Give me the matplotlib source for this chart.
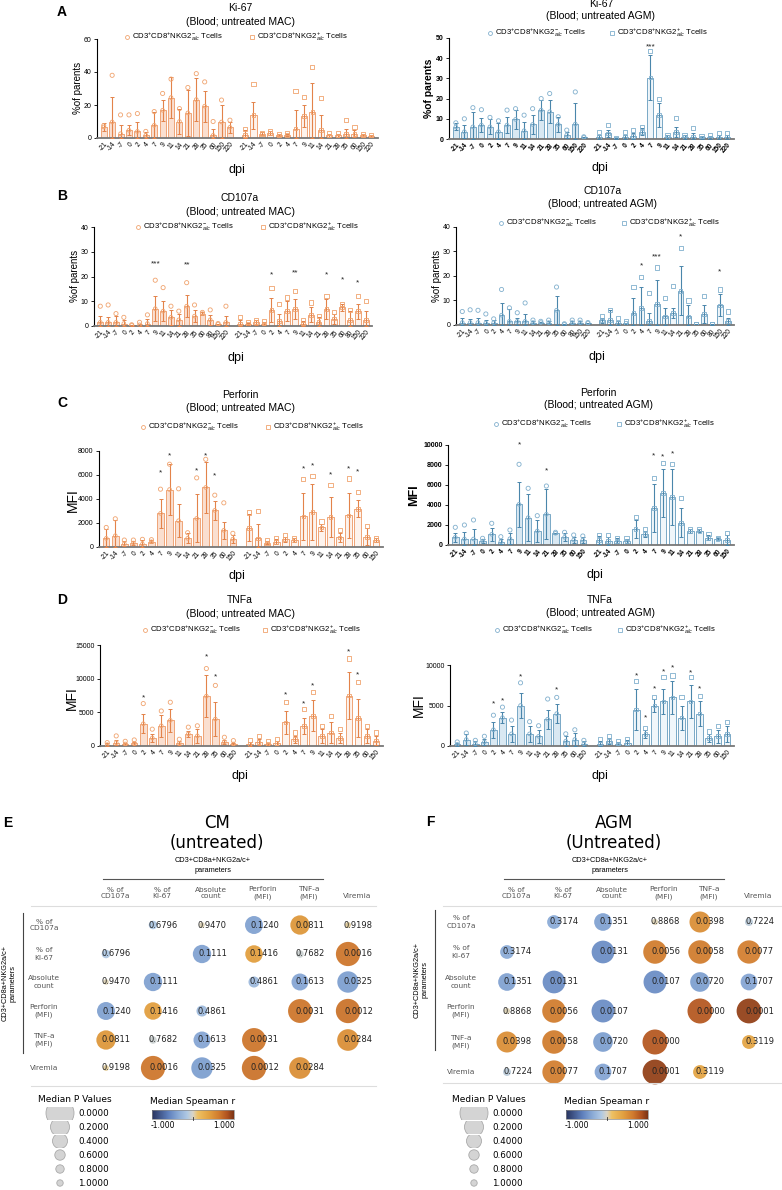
import numpy as np
import matplotlib
matplotlib.use("Agg")
import matplotlib.pyplot as plt
from matplotlib.patches import Circle, Rectangle
from matplotlib.colors import LinearSegmentedColormap

plt.rcParams['font.family'] = ['Liberation Sans', 'DejaVu Sans']
plt.rcParams['mathtext.fontset'] = 'custom'
plt.rcParams['mathtext.rm'] = 'Liberation Sans'
plt.rcParams['mathtext.it'] = 'Liberation Sans:italic'

W, H = 782, 1190

# ---------------- data ----------------
labels_A = ['-21', '-14', '-7', '0', '2', '4', '7', '9', '11', '14', '21', '28', '35', '60', '150', '220']
labels_B = ['-21', '-14', '-7', '0', '2', '4', '7', '9', '11', '14', '21', '28', '35', '60', '80', '150', '220']
labels_C = ['-21', '-14', '-7', '0', '2', '4', '7', '9', '11', '14', '21', '28', '35', '60', '150']

# Ki-67 MAC (mean, upper error end, highest point)
a_l_m1 = [6.7, 9.7, 2.6, 4.7, 4.0, 1.6, 7.7, 16.8, 24.5, 10.0, 15.2, 23.3, 19.3, 1.6, 9.7, 6.5]
a_l_e1 = [9, 25, 7.7, 7.7, 9.7, 3.6, 15.8, 23, 36.7, 17.8, 29, 36.5, 28.6, 5.7, 20, 9.7]
a_l_t1 = [7.5, 38, 14, 14, 14.8, 4, 16, 27, 35.7, 17.8, 30.6, 39, 34, 10, 23, 10.8]
a_l_m2 = [2, 13.8, 2.6, 3, 1.6, 2, 5.7, 13.2, 15.8, 4.7, 1.6, 1.6, 2.6, 2.6, 1.6, 1]
a_l_e2 = [4.7, 22, 3.6, 4, 2.2, 2.6, 16.8, 19.9, 33.5, 13.8, 2.6, 2.6, 5.7, 4.7, 2.6, 1.6]
a_l_t2 = [5.7, 32.7, 3, 4.3, 2.2, 3, 28.6, 25, 42.8, 24, 3.2, 3, 10.8, 6.7, 2.6, 1.6]
a_l_stars = []

# Ki-67 AGM
a_r_m1 = [6, 3.6, 6, 6.9, 6, 3.6, 6.9, 9.7, 4.1, 7.2, 14.3, 13.5, 7.2, 2, 7.4, 0.8]
a_r_e1 = [7.7, 6.9, 13.5, 10.2, 9.7, 7.7, 11, 14.3, 8.5, 11.8, 19.2, 19.2, 10.7, 3.6, 17.6, 1.1]
a_r_t1 = [8, 10, 15.5, 14.5, 10.7, 9, 14.3, 15, 11.8, 15, 20, 22.5, 11, 4.4, 23.3, 1.1]
a_r_m2 = [1.1, 2.8, 0.3, 1.1, 1.5, 3.6, 30.4, 11.8, 1.1, 3.6, 1.1, 1.1, 0.8, 0.8, 1.1, 1.1]
a_r_e2 = [2, 4.4, 0.5, 2, 2.8, 5.3, 41.4, 17.6, 2, 6, 2, 2.8, 1.5, 1.5, 2, 2]
a_r_t2 = [3.6, 6.9, 0.5, 3.6, 4.4, 6, 43.6, 20, 2, 10.2, 2, 5.3, 1.5, 2, 2.8, 3.1]
a_r_stars = [(2, 6, 45.5, '***')]

# CD107a MAC
b_l_m1 = [1.5, 1.5, 1.5, 1, 0.3, 0.5, 1, 7, 6, 3.5, 2.5, 8, 4, 5, 2.5, 0.8, 1.5]
b_l_e1 = [4, 3.5, 4, 2.5, 0.5, 1, 3, 12, 10, 6.5, 5, 12.5, 6.5, 5.5, 4.5, 1, 4]
b_l_t1 = [8, 8.5, 5, 3.5, 0.5, 1.5, 4.5, 18.5, 15.5, 8, 6, 17.5, 8.5, 5.5, 6.5, 1, 8]
b_l_m2 = [1, 0.8, 1.5, 1, 6.5, 2, 6, 7, 1, 4.5, 1.5, 7, 3, 7.5, 2.5, 6, 2.5]
b_l_e2 = [2.5, 1.2, 2.5, 1.5, 11.5, 5, 10, 11, 2, 7.5, 3.5, 11, 5, 9, 6, 9, 6]
b_l_t2 = [3.5, 1.5, 2.5, 2, 15.5, 9, 11.5, 14, 2.5, 9.5, 4, 12, 5.5, 9, 6.5, 12, 10]
b_l_stars = [(1, 7, 25, '***'), (1, 11, 24.5, '**'), (2, 4, 20.5, '*'), (2, 7, 21.4, '**'),
             (2, 11, 20.5, '*'), (2, 13, 18.5, '*'), (2, 15, 17.3, '*')]

# CD107a AGM
b_r_m1 = [1, 1, 1, 0.8, 1, 4, 1.5, 1.5, 1.5, 1, 1, 1, 6, 0.3, 1, 1, 0.8]
b_r_e1 = [3, 2.5, 3, 2, 2, 9, 6.5, 3, 4.5, 1.5, 1.2, 1.5, 12, 0.5, 1.5, 1.5, 1]
b_r_t1 = [5.5, 6.2, 6, 4.5, 2.5, 14.5, 7, 5, 9, 2, 1.5, 2, 15.5, 0.5, 2, 2, 1]
b_r_m2 = [2, 2, 0.8, 0.8, 5, 7, 1.5, 8.5, 3.5, 5, 14, 3.5, 0.5, 4.5, 0.3, 8, 1.5]
b_r_e2 = [3, 6, 1.5, 1, 11, 15.5, 5, 18.5, 7, 7, 24, 8, 0.6, 8, 0.5, 12.5, 3]
b_r_t2 = [3.5, 6, 3, 1.5, 15.5, 19.5, 13, 23.5, 11, 16, 31.5, 10, 0.5, 12, 0.5, 14.5, 5.5]
b_r_stars = [(2, 5, 24, '*'), (2, 7, 27.6, '***'), (2, 10, 35.8, '*'), (2, 15, 21.5, '*')]

# Perforin MAC
c_l_m1 = [720, 940, 280, 330, 250, 440, 2800, 4790, 2190, 720, 2380, 4960, 3050, 1390, 660]
c_l_e1 = [1470, 2240, 500, 530, 550, 580, 4040, 6900, 3550, 1140, 4380, 7090, 3820, 2110, 1000]
c_l_t1 = [1630, 2350, 580, 580, 640, 610, 4820, 6900, 4850, 1190, 5760, 7310, 4320, 3680, 1140]
c_l_m2 = [1610, 720, 360, 440, 640, 580, 2550, 2910, 1630, 2490, 800, 2630, 3190, 860, 580]
c_l_e2 = [2710, 1880, 500, 640, 860, 720, 4520, 5240, 1910, 4180, 1190, 4520, 3910, 1550, 720]
c_l_t2 = [2880, 2990, 580, 720, 1000, 780, 5650, 5900, 2130, 5150, 1410, 5710, 4600, 1750, 780]
c_l_stars = [(1, 6, 6150, '*'), (1, 7, 7560, '*'), (1, 10, 6320, '*'), (1, 11, 7620, '*'), (1, 12, 5930, '*'),
             (2, 6, 6480, '*'), (2, 7, 6760, '*'), (2, 9, 5980, '*'), (2, 11, 6480, '*'), (2, 12, 6260, '*')]

# Perforin AGM
c_r_m1 = [770, 600, 600, 400, 1070, 330, 630, 4070, 2730, 1400, 3070, 1170, 770, 500, 500]
c_r_e1 = [1230, 1330, 1600, 570, 1730, 570, 1170, 6300, 5100, 2500, 5570, 1230, 1170, 830, 830]
c_r_t1 = [1770, 2000, 2500, 670, 2170, 830, 1500, 8070, 5670, 2930, 5900, 1270, 1270, 1000, 900]
c_r_m2 = [500, 400, 430, 430, 1600, 1100, 3670, 5170, 4770, 2230, 1400, 1430, 730, 600, 500]
c_r_e2 = [900, 830, 670, 630, 2500, 1400, 6070, 7570, 7570, 3670, 1570, 1570, 1000, 670, 1000]
c_r_t2 = [1000, 1000, 730, 730, 2800, 1570, 6670, 8230, 8100, 4730, 1600, 1570, 1100, 670, 1200]
c_r_stars = [(1, 7, 10000, '*'), (1, 10, 7430, '*'), (2, 6, 8930, '*'), (2, 7, 8770, '*'), (2, 8, 9100, '*')]

# TNFa MAC
d_l_m1 = [200, 500, 300, 400, 3300, 1200, 3000, 3800, 400, 1800, 1500, 7400, 4000, 600, 300]
d_l_e1 = [400, 900, 500, 600, 4700, 1800, 4600, 5500, 700, 2200, 2500, 10500, 6500, 900, 500]
d_l_t1 = [500, 1500, 700, 900, 6300, 2500, 5200, 6500, 1000, 2800, 3000, 11500, 9000, 1300, 800]
d_l_m2 = [300, 600, 300, 400, 3500, 1000, 3000, 4500, 1500, 2000, 1200, 7500, 4200, 1500, 800]
d_l_e2 = [600, 1000, 500, 700, 5200, 1500, 4200, 6800, 2500, 3500, 2000, 11000, 7000, 2500, 1500]
d_l_t2 = [900, 1500, 800, 1000, 6500, 2000, 5500, 8000, 3000, 4500, 2500, 13000, 9500, 3000, 2000]
d_l_stars = [(1, 4, 7200, '*'), (1, 11, 13200, '*'), (1, 12, 10300, '*'), (2, 4, 7600, '*'),
             (2, 6, 6200, '*'), (2, 7, 9000, '*'), (2, 11, 14000, '*'), (2, 12, 10500, '*')]

# TNFa AGM
d_r_m1 = [200, 800, 300, 500, 2000, 3500, 1500, 5000, 1500, 1200, 3300, 4000, 600, 800, 300]
d_r_e1 = [400, 1500, 600, 900, 3000, 4200, 2500, 6500, 2500, 2000, 4500, 5200, 1200, 1600, 600]
d_r_t1 = [500, 1600, 700, 1200, 3800, 4800, 3200, 7800, 3000, 2500, 5800, 6000, 1500, 2000, 700]
d_r_m2 = [300, 600, 300, 400, 4500, 1500, 5000, 5500, 6000, 3500, 5500, 4000, 1000, 1200, 1500]
d_r_e2 = [600, 1000, 500, 700, 7000, 2000, 5800, 7000, 8000, 5000, 7500, 5500, 1500, 2000, 2500]
d_r_t2 = [800, 1200, 600, 900, 8000, 2200, 6000, 8500, 8700, 6000, 8500, 6200, 1800, 2500, 3000]
d_r_stars = [(1, 4, 5200, '*'), (1, 5, 5600, '*'), (1, 7, 8500, '*'), (1, 11, 6900, '*'), (2, 4, 8600, '*'),
             (2, 5, 3500, '*'), (2, 6, 7000, '*'), (2, 7, 9200, '*'), (2, 8, 9600, '*'), (2, 10, 9000, '*'),
             (2, 11, 7000, '*')]

# correlation matrices
params = ['% of\nCD107a', '% of\nKI-67', 'Absolute\ncount', 'Perforin\n(MFI)', 'TNF-a\n(MFI)', 'Viremia']
p_cm = [[None, 0.6796, 0.9470, 0.1240, 0.0811, 0.9198],
        [0.6796, None, 0.1111, 0.1416, 0.7682, 0.0016],
        [0.9470, 0.1111, None, 0.4861, 0.1613, 0.0325],
        [0.1240, 0.1416, 0.4861, None, 0.0031, 0.0012],
        [0.0811, 0.7682, 0.1613, 0.0031, None, 0.0284],
        [0.9198, 0.0016, 0.0325, 0.0012, 0.0284, None]]
r_cm = [[0, -0.15, 0.02, -0.4, 0.45, 0.05],
        [-0.15, 0, -0.4, 0.4, -0.05, 0.65],
        [0.02, -0.4, 0, -0.25, -0.38, -0.42],
        [-0.4, 0.4, -0.25, 0, 0.65, 0.67],
        [0.45, -0.05, -0.38, 0.65, 0, 0.5],
        [0.05, 0.65, -0.42, 0.67, 0.5, 0]]
p_agm = [[None, 0.3174, 0.1351, 0.8868, 0.0398, 0.7224],
         [0.3174, None, 0.0131, 0.0056, 0.0058, 0.0077],
         [0.1351, 0.0131, None, 0.0107, 0.0720, 0.1707],
         [0.8868, 0.0056, 0.0107, None, 0.0000, 0.0001],
         [0.0398, 0.0058, 0.0720, 0.0000, None, 0.3119],
         [0.7224, 0.0077, 0.1707, 0.0001, 0.3119, None]]
r_agm = [[0, -0.35, -0.4, 0.02, 0.5, -0.1],
         [-0.35, 0, -0.52, 0.62, 0.62, 0.6],
         [-0.4, -0.52, 0, -0.52, -0.42, -0.38],
         [0.02, 0.62, -0.52, 0, 0.8, 0.92],
         [0.5, 0.62, -0.42, 0.8, 0, 0.35],
         [-0.1, 0.6, -0.38, 0.92, 0.35, 0]]
legend_p = ['0.0000', '0.2000', '0.4000', '0.6000', '0.8000', '1.0000']

# ---------------- figure ----------------
fig = plt.figure(figsize=(W / 100, H / 100), dpi=100)
ov = fig.add_axes([0, 0, 1, 1])
ov.set_xlim(0, W)
ov.set_ylim(H, 0)
ov.axis('off')


def add_ax(x0, ytop, x1, ybot):
    return fig.add_axes([x0 / W, 1 - ybot / H, (x1 - x0) / W, (ybot - ytop) / H])


MAC = dict(edge='#efa477', f1='#fadfd0', f2='#fdf3ed', err='#e3834a', pt='#f0a36e')
AGM = dict(edge='#79a8c6', f1='#d9e8f2', f2='#f0f6fa', err='#4a86ab', pt='#80afcd')


def bar_panel(box, labels, m1, e1, t1, m2, e2, t2, stars, pal, ymax, ystep, bold):
    ax = add_ax(*box)
    n = len(labels)
    x1 = np.arange(n)
    x2 = np.arange(n) + n + 0.8
    for xs, m, e, t, fc, mk in ((x1, m1, e1, t1, pal['f1'], 'o'), (x2, m2, e2, t2, pal['f2'], 's')):
        m = np.array(m, float)
        e = np.array(e, float)
        sd = e - m
        lo = np.minimum(sd, m)
        ax.bar(xs, m, width=0.72, facecolor=fc, edgecolor=pal['edge'], lw=0.7, zorder=2)
        ax.errorbar(xs, m, yerr=[lo, sd], fmt='none', ecolor=pal['err'], elinewidth=0.8,
                    capsize=1.3, capthick=0.7, zorder=3)
        ax.scatter(xs, m, marker=mk, s=7, facecolor='none', edgecolor=pal['pt'], lw=0.6, zorder=4)
        ax.scatter(xs, t, marker=mk, s=9, facecolor='none', edgecolor=pal['pt'], lw=0.6, zorder=4)
    for g, i, y, s in stars:
        xx = (x1 if g == 1 else x2)[i]
        ax.text(xx, y, s, ha='center', va='center', fontsize=6, color='#222')
    ax.set_xlim(-0.8, x2[-1] + 0.8)
    ax.set_ylim(0, ymax)
    ax.set_yticks(np.arange(0, ymax + 1e-9, ystep))
    ax.set_xticks(np.concatenate([x1, x2]))
    ax.set_xticklabels(list(labels) * 2, rotation=50, ha='right', rotation_mode='anchor',
                       fontsize=4.8, fontweight='bold' if bold else 'normal')
    ax.tick_params(axis='x', length=0, pad=2)
    ax.tick_params(axis='y', length=2.5, width=0.6, labelsize=5.0, pad=1.5)
    if bold:
        for t in ax.get_yticklabels():
            t.set_fontweight('bold')
    for s in ('top', 'right'):
        ax.spines[s].set_visible(False)
    ax.spines['left'].set_linewidth(0.8)
    ax.spines['bottom'].set_linewidth(1.3)
    ax.spines['bottom'].set_color('#777777')
    ax.patch.set_alpha(0)
    return ax


def header(cx, y1, y2, t1, t2, ly, cxm, cxs, pal):
    ov.text(cx, y1, t1, ha='center', va='center', fontsize=7.5)
    ov.text(cx, y2, t2, ha='center', va='center', fontsize=7.5)
    ov.plot(cxm, ly, marker='o', ms=2.8, mfc='none', mec=pal['pt'], mew=0.6)
    ov.text(cxm + 5, ly, r'CD3$^{+}$CD8$^{+}$NKG2$_{a/c}^{-}$ Tcells', ha='left', va='center', fontsize=5.6)
    ov.plot(cxs, ly, marker='s', ms=2.8, mfc='none', mec=pal['pt'], mew=0.6)
    ov.text(cxs + 5, ly, r'CD3$^{+}$CD8$^{+}$NKG2$_{a/c}^{+}$ Tcells', ha='left', va='center', fontsize=5.6)


# Panel letters
for lx, ly, lt in ((62, 12, 'A'), (62, 196, 'B'), (62, 403, 'C'), (62, 600, 'D'), (8, 823, 'E'), (430, 822, 'F')):
    ov.text(lx, ly, lt, ha='center', va='center', fontsize=10, fontweight='bold')

# A
bar_panel((97, 39, 378, 138), labels_A, a_l_m1, a_l_e1, a_l_t1, a_l_m2, a_l_e2, a_l_t2, a_l_stars, MAC, 60, 20, False)
header(240, 8, 22, 'Ki-67', '(Blood; untreated MAC)', 37, 127, 252, MAC)
ov.text(78, 88, '%of parents', rotation=90, ha='center', va='center', fontsize=7)
ov.text(237, 170, 'dpi', ha='center', va='center', fontsize=9)

bar_panel((449, 38, 734, 139), labels_A, a_r_m1, a_r_e1, a_r_t1, a_r_m2, a_r_e2, a_r_t2, a_r_stars, AGM, 50, 10, True)
header(601, 4, 16, 'Ki-67', '(Blood; untreated AGM)', 33, 490, 612, AGM)
ov.text(429, 88, '%of parents', rotation=90, ha='center', va='center', fontsize=7.5, fontweight='bold')
ov.text(600, 168, 'dpi', ha='center', va='center', fontsize=9)

# B
bar_panel((94, 227, 372, 326), labels_B, b_l_m1, b_l_e1, b_l_t1, b_l_m2, b_l_e2, b_l_t2, b_l_stars, MAC, 40, 10, False)
header(240, 198, 212, 'CD107a', '(Blood; untreated MAC)', 227, 138, 263, MAC)
ov.text(75, 276, '%of parents', rotation=90, ha='center', va='center', fontsize=7)
ov.text(236, 358, 'dpi', ha='center', va='center', fontsize=9)

bar_panel((456, 227, 734, 325), labels_B, b_r_m1, b_r_e1, b_r_t1, b_r_m2, b_r_e2, b_r_t2, b_r_stars, AGM, 40, 10, False)
header(603, 191, 204, 'CD107a', '(Blood; untreated AGM)', 223, 501, 624, AGM)
ov.text(437, 276, '%of parents', rotation=90, ha='center', va='center', fontsize=7)
ov.text(597, 357, 'dpi', ha='center', va='center', fontsize=9)

# C
bar_panel((99, 451, 383, 547), labels_C, c_l_m1, c_l_e1, c_l_t1, c_l_m2, c_l_e2, c_l_t2, c_l_stars, MAC, 8000, 2000, False)
header(240, 395, 408, 'Perforin', '(Blood; untreated MAC)', 427, 143, 268, MAC)
ov.text(73, 500, 'MFI', rotation=90, ha='center', va='center', fontsize=10)
ov.text(237, 576, 'dpi', ha='center', va='center', fontsize=9)

bar_panel((448, 445, 734, 545), labels_C, c_r_m1, c_r_e1, c_r_t1, c_r_m2, c_r_e2, c_r_t2, c_r_stars, AGM, 10000, 2000, True)
header(598, 393, 405, 'Perforin', '(Blood; untreated AGM)', 424, 496, 619, AGM)
ov.text(414, 495, 'MFI', rotation=90, ha='center', va='center', fontsize=9, fontweight='bold')
ov.text(595, 575, 'dpi', ha='center', va='center', fontsize=9)

# D
bar_panel((100, 645, 383, 746), labels_C, d_l_m1, d_l_e1, d_l_t1, d_l_m2, d_l_e2, d_l_t2, d_l_stars, MAC, 15000, 5000, False)
header(240, 600, 614, 'TNFa', '(Blood; untreated MAC)', 630, 145, 265, MAC)
ov.text(72, 698, 'MFI', rotation=90, ha='center', va='center', fontsize=10)
ov.text(240, 776, 'dpi', ha='center', va='center', fontsize=9)

bar_panel((450, 665, 734, 746), labels_C, d_r_m1, d_r_e1, d_r_t1, d_r_m2, d_r_e2, d_r_t2, d_r_stars, AGM, 10000, 5000, False)
header(600, 600, 613, 'TNFa', '(Blood; untreated AGM)', 630, 497, 620, AGM)
ov.text(419, 705, 'MFI', rotation=90, ha='center', va='center', fontsize=10)
ov.text(600, 776, 'dpi', ha='center', va='center', fontsize=9)

# ---------------- correlation panels ----------------
cmap = LinearSegmentedColormap.from_list('spear', [
    (0.0, '#28335f'), (0.2, '#5f80bd'), (0.32, '#8aaad6'), (0.43, '#b0c9e4'), (0.5, '#dad5c6'),
    (0.56, '#eec163'), (0.7, '#e2a040'), (0.82, '#d07a2e'), (0.92, '#b0521f'), (1.0, '#7a3316')])


def corr_panel(cx_title, title1, title2, colx, rowy, rowlab_x, vline_x, hline, line2, topline, bottomline,
               pvals, rvals, leg_x, cb_x):
    ov.text(cx_title, 823, title1, ha='center', va='center', fontsize=12, family='DejaVu Sans')
    ov.text(cx_title, 843, title2, ha='center', va='center', fontsize=12, family='DejaVu Sans')
    ov.text(cx_title - 4, 861, 'CD3+CD8a+NKG2a/c+', ha='center', va='center', fontsize=5.3)
    ov.text(cx_title - 4, 870, 'parameters', ha='center', va='center', fontsize=5.3)
    ov.plot(topline, [879, 879], color='#555555', lw=0.8)
    ov.plot(line2, [906, 906], color='#dddddd', lw=0.8)
    ov.plot(line2, [bottomline, bottomline], color='#dddddd', lw=0.8)
    ov.plot([vline_x, vline_x], hline, color='#444444', lw=0.8)
    ov.text(vline_x - 14, (hline[0] + hline[1]) / 2, 'CD3+CD8a+NKG2a/c+\nparameters', rotation=90,
            ha='center', va='center', fontsize=5.3, linespacing=1.3)
    for j, name in enumerate(params):
        yy = 896 if name == 'Viremia' else 893
        ov.text(colx[j], yy, name, ha='center', va='center', fontsize=5.3, color='#555555',
                family='DejaVu Sans', linespacing=1.2)
    for i, name in enumerate(params):
        ov.text(rowlab_x, rowy[i], name, ha='center', va='center', fontsize=5.3, color='#555555',
                family='DejaVu Sans', linespacing=1.2)
        for j in range(len(params)):
            p = pvals[i][j]
            if p is None:
                continue
            rad = 12.5 - 10 * np.sqrt(p)
            col = cmap((rvals[i][j] + 1) / 2)
            ov.add_patch(Circle((colx[j] - 9, rowy[i]), rad, facecolor=col, edgecolor='none', alpha=0.95))
            ov.text(colx[j] + 1.5, rowy[i], f'{p:.4f}', ha='center', va='center', fontsize=6,
                    family='DejaVu Sans', color='#222222')
    # p-value legend
    ov.text(leg_x + 15, 1100, 'Median P Values', ha='center', va='center', fontsize=6.5, family='DejaVu Sans')
    radii = [14, 9.5, 7.5, 5.2, 4.2, 3.2]
    for k, lab in enumerate(legend_p):
        yy = 1113 + 14 * k
        c = Circle((leg_x, yy), radii[k], facecolor='#d4d4d4', edgecolor='#aaaaaa', lw=0.6)
        ov.add_patch(c)
        clip = Rectangle((leg_x - 20, yy - 6.5), 40, 13, transform=ov.transData)
        c.set_clip_path(clip)
        ov.text(leg_x + 18, yy, lab, ha='left', va='center', fontsize=6.3, family='DejaVu Sans')
    # colorbar
    grad = np.linspace(0, 1, 256).reshape(1, -1)
    ov.imshow(grad, extent=(cb_x, cb_x + 82, 1119, 1110), cmap=cmap, aspect='auto', zorder=2)
    ov.add_patch(Rectangle((cb_x, 1110), 82, 9, fill=False, edgecolor='#888888', lw=0.5, zorder=3))
    ov.plot([cb_x + 41, cb_x + 41], [1117, 1120], color='#333333', lw=0.6, zorder=4)
    ov.text(cb_x + 41, 1101, 'Median Speaman r', ha='center', va='center', fontsize=6.5, family='DejaVu Sans')
    ov.text(cb_x + 11, 1126, '-1.000', ha='center', va='center', fontsize=5.5, family='DejaVu Sans')
    ov.text(cb_x + 72, 1126, '1.000', ha='center', va='center', fontsize=5.5, family='DejaVu Sans')


corr_panel(217, 'CM', '(untreated)', [115, 162, 211, 263, 309, 357], [925, 954, 982, 1011, 1040, 1068],
           44, 23, [913, 1053], [31, 376], [103, 323], 1086, p_cm, r_cm, 60, 152)
corr_panel(614, 'AGM', '(Untreated)', [516, 563, 612, 664, 709, 758], [922, 952, 982, 1011, 1042, 1072],
           461, 435, [910, 1050], [443, 782], [504, 724], 1083, p_agm, r_agm, 474, 566)

ov.set_xlim(0, W)
ov.set_ylim(H, 0)
fig.savefig('out.png', dpi=100)
